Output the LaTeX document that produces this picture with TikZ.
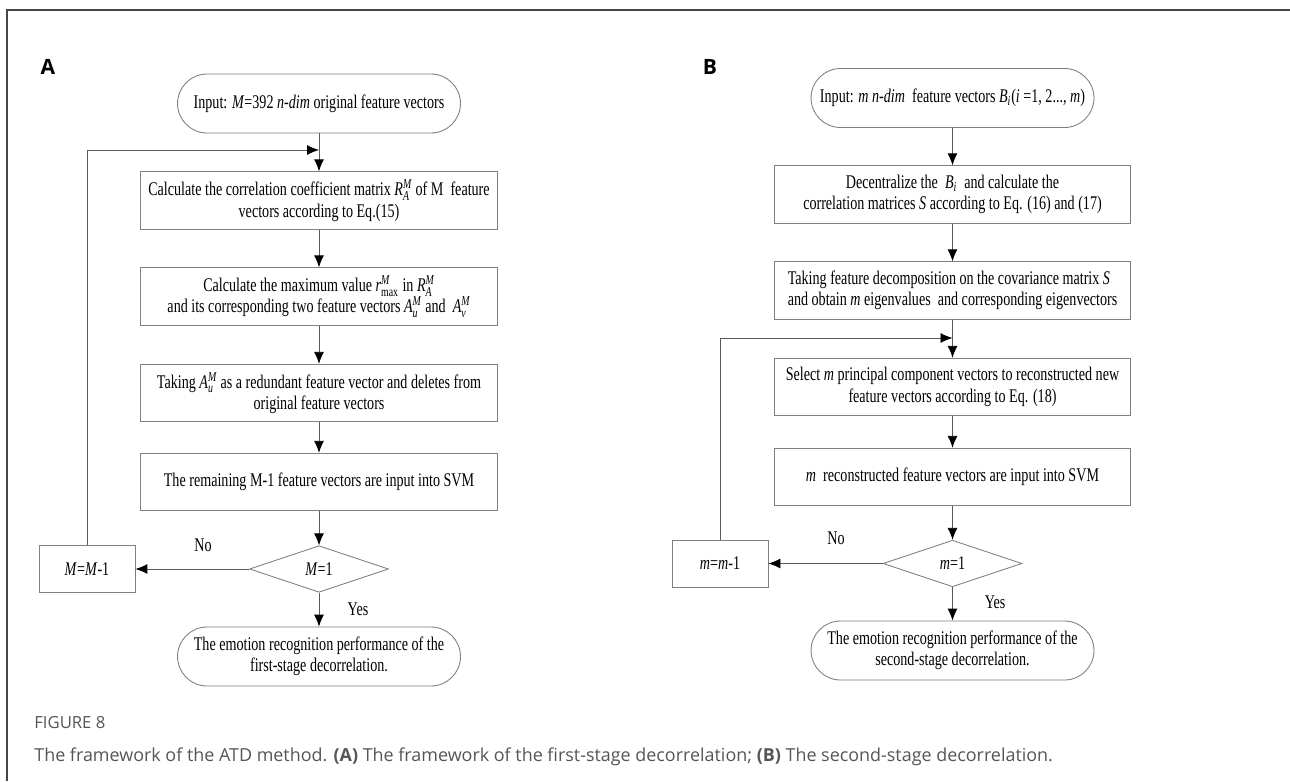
\documentclass[tikz,border=0pt]{standalone}
\usepackage{amsmath}
\usepackage{fontspec}
\setmainfont{Liberation Serif}[FakeStretch=0.73]
\newfontfamily\capfont{Open Sans}
\usepackage{tikz}
\usetikzlibrary{arrows.meta, shapes.geometric, calc}

% feature vector symbol with super- and subscript
\newcommand{\fv}[3]{$\textit{#1}^{\textit{#2}}_{\textit{#3}}$}

\begin{document}
\begin{tikzpicture}[x=0.02cm, y=-0.02cm]

    % Page frame
    \useasboundingbox (0,0) rectangle (1290,781);
    \tikzset{fr/.style={draw={rgb,255:red,70;green,70;blue,70}, line width=0.8pt}}
    \draw[fr] (7,781) -- (7,10) -- (1290,10);

    % Flow chart elements
    \tikzset{txt/.style={font=\fontsize{11}{12.2}\selectfont}}
    \tikzset{tS/.style={txt, draw=gray, line width=0.5pt, align=center, inner sep=1pt, minimum width=5.66cm, minimum height=1.18cm, rounded corners=0.59cm}}
    \tikzset{bS/.style={txt, draw=gray, line width=0.5pt, align=center, inner sep=1pt, minimum width=7.13cm, minimum height=1.15cm}}
    \tikzset{dS/.style={txt, draw=gray, line width=0.5pt, shape=diamond, aspect=3, inner sep=0pt, minimum width=2.78cm, minimum height=0.93cm}}
    \tikzset{lS/.style={txt, draw=gray, line width=0.5pt, inner sep=1pt, minimum width=1.92cm, minimum height=0.94cm}}
    \tikzset{aS/.style={draw={rgb,255:red,90;green,90;blue,90}, line width=0.5pt, -{Latex[length=0.24cm, width=0.2cm, color=black]}}}

    % Panel labels
    \tikzset{pL/.style={font=\capfont\bfseries\fontsize{12}{14}\selectfont}}
    \node (labA) [pL] at (48,67) {A};
    \node (labB) [pL] at (710,67) {B};

    % First-stage decorrelation
    \node (inA) [tS] at (319,103.5) {Input: \textit{M}=392 \textit{n-dim} original feature vectors};
    \coordinate (jA) at (319,150);
    	\node (bA1) [bS] at (319,200.5) {Calculate the correlation coefficient matrix \fv{R}{M}{A} of M~ feature\\vectors according to Eq.(15)};
    	\node (bA2) [bS] at (319,296.5) {Calculate the maximum value \fv{r}{M}{\textup{max}} in \fv{R}{M}{A}\\and its corresponding two feature vectors \fv{A}{M}{u} and~ \fv{A}{M}{v}};
    	\node (bA3) [bS] at (319,393) {Taking \fv{A}{M}{u} as a redundant feature vector and deletes from\\original feature vectors};
    	\node (bA4) [bS] at (319,482) {The remaining M-1 feature vectors are input into SVM};
    	\node (dA) [dS] at (319,569) {\textit{M}=1};
    		\node (mA) [lS] at (87,569) {\textit{M}=\textit{M}-1};
    	\node (outA) [tS] at (319,656.5) {The emotion recognition performance of the\\first-stage decorrelation.};
    \node (noA) [txt] at (203,545) {No};
    \node (yesA) [txt] at (358,609) {Yes};

    \draw[aS] (inA) -- (bA1);
    \draw[aS] (bA1) -- (bA2);
    \draw[aS] (bA2) -- (bA3);
    \draw[aS] (bA3) -- (bA4);
    \draw[aS] (bA4) -- (dA);
    \draw[aS] (dA) -- (mA);
    \draw[aS] (dA) -- (outA);
    \draw[aS] (mA.north) |- (jA);

    % Second-stage decorrelation
    \node (inB) [tS] at (952.5,98) {Input: \textit{m n-dim}~ feature vectors \textit{B}$_{\textit{i}}$(\textit{i} =1, 2..., \textit{m})};
    	\node (bB1) [bS] at (952.5,194.5) {Decentralize the~ \textit{B}$_{\textit{i}}$~ and calculate the\\correlation matrices \textit{S} according to Eq. (16) and (17)};
    	\node (bB2) [bS, align=left] at (952.5,290.5) {Taking feature decomposition on the covariance matrix \textit{S}\\and obtain \textit{m} eigenvalues~ and corresponding eigenvectors};
    \coordinate (jB) at (952.5,338);
    	\node (bB3) [bS] at (952.5,387) {Select \textit{m} principal component vectors to reconstructed new\\feature vectors according to Eq. (18)};
    	\node (bB4) [bS] at (952.5,477) {\textit{m}~ reconstructed feature vectors are input into SVM};
    	\node (dB) [dS] at (952.5,563.5) {\textit{m}=1};
    		\node (mB) [lS] at (720,563.5) {\textit{m}=\textit{m}-1};
    	\node (outB) [tS] at (952.5,650.5) {The emotion recognition performance of the\\second-stage decorrelation.};
    \node (noB) [txt] at (836,538) {No};
    \node (yesB) [txt] at (995,602) {Yes};

    \draw[aS] (inB) -- (bB1);
    \draw[aS] (bB1) -- (bB2);
    \draw[aS] (bB2) -- (bB3);
    \draw[aS] (bB3) -- (bB4);
    \draw[aS] (bB4) -- (dB);
    \draw[aS] (dB) -- (mB);
    \draw[aS] (dB) -- (outB);
    \draw[aS] (mB.north) |- (jB);

    % Caption
    \tikzset{cS/.style={anchor=west, inner sep=0pt, text={rgb,255:red,85;green,85;blue,85}}}
    \node (figN) [cS, font=\capfont\fontsize{9.5}{11}\selectfont] at (34,723) {FIGURE 8};
    \node (figC) [cS, font=\capfont\fontsize{10.2}{12}\selectfont] at (34,757) {The framework of the ATD method. \textbf{(A)} The framework of the first-stage decorrelation; \textbf{(B)} The second-stage decorrelation.};

\end{tikzpicture}
\end{document}
